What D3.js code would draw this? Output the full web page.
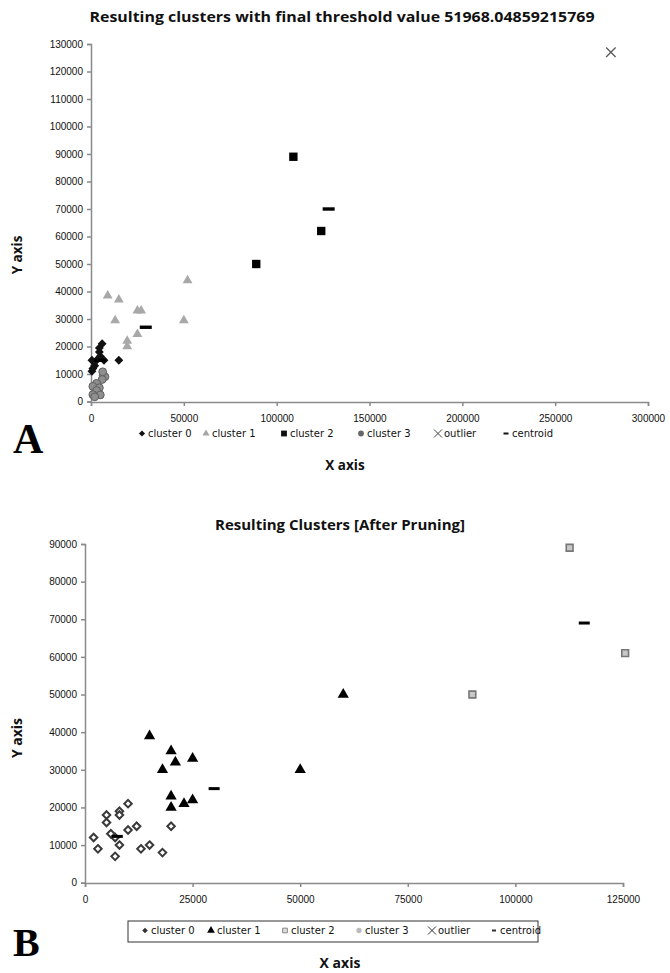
<!DOCTYPE html>
<html>
<head>
<meta charset="utf-8">
<script src="https://cdn.jsdelivr.net/npm/d3@7"></script>
<style>
  body { margin: 0; background: #fff; }
  svg { display: block; font-family: "DejaVu Sans", sans-serif; }
  .axis path, .axis line { stroke: #8a8a8a; stroke-width: 1.5; }
  .axis text { font-size: 10px; fill: #111; }
  .bold { font-family: "Open Sans", sans-serif; font-weight: bold; fill: #111; }
  .leg { font-size: 10px; fill: #111; }
</style>
</head>
<body>
<svg width="670" height="973"></svg>
<script>
// ---- chart A data (x, y pairs) ----
var aCluster0 = [[6000,21000],[4500,19500],[4500,18000],[5000,16500],[500,15000],[3000,15000],
                 [7000,15000],[15000,15000],[2000,13000],[1000,12000],[500,11000]];
var aCluster1 = [[9000,38500],[15000,37000],[13000,29500],[25000,33000],[27000,33000],[25000,24500],
                 [19500,22000],[19500,20000],[50000,29500],[52000,44000]];
var aCluster2 = [[109000,89000],[124000,62000],[89000,50000]];
var aCluster3 = [[6500,9500],[7500,9000],[6300,10800],[6000,8000],[3000,6600],[1000,5500],
                 [4500,5000],[3000,4000],[1000,2500],[5000,2400],[2000,1700]];
var aOutlier = [[280000,127000]];
var aCentroid = [[29500,27000],[128000,70000],[5000,15000]];
var aXTicks = [0,50000,100000,150000,200000,250000,300000];
var aYTicks = d3.range(0, 130001, 10000);

// ---- chart B data ----
var bCluster0 = [[2000,12000],[3000,9000],[5000,18000],[5000,16000],[6000,13000],[7000,12000],
                 [7000,7000],[8000,19000],[8000,18000],[8000,10000],[10000,21000],[10000,14000],
                 [12000,15000],[13000,9000],[15000,10000],[18000,8000],[20000,15000]];
var bCluster1 = [[15000,39000],[20000,35000],[21000,32000],[25000,33000],[18000,30000],[20000,23000],
                 [20000,20000],[23000,21000],[25000,22000],[50000,30000],[60000,50000]];
var bCluster2 = [[112600,89000],[125500,61000],[90000,50000]];
var bCentroid = [[30000,25000],[116000,69000],[7500,12300]];
var bXTicks = [0,25000,50000,75000,100000,125000];
var bYTicks = d3.range(0, 90001, 10000);

var legendNames = ["cluster 0", "cluster 1", "cluster 2", "cluster 3", "outlier", "centroid"];

var svg = d3.select("svg");

function sym(type, size) { return d3.symbol().type(type).size(size)(); }

function drawPoints(g, data, x, y, path, style) {
  g.selectAll(null).data(data).enter().append("path")
    .attr("d", path)
    .attr("transform", function(d) { return "translate(" + x(d[0]) + "," + y(d[1]) + ")"; })
    .attr("fill", style.fill)
    .attr("stroke", style.stroke || "none")
    .attr("stroke-width", style.sw || 0);
}

function drawCentroids(g, data, x, y, w, h) {
  g.selectAll(null).data(data).enter().append("rect")
    .attr("x", function(d) { return x(d[0]) - w / 2; })
    .attr("y", function(d) { return y(d[1]) - h / 2; })
    .attr("width", w).attr("height", h)
    .attr("fill", "#000");
}

function drawAxes(x, y, xTicks, yTicks, x0, y0) {
  svg.append("g").attr("class", "axis")
    .attr("transform", "translate(0," + y0 + ")")
    .call(d3.axisBottom(x).tickValues(xTicks).tickSize(4).tickSizeOuter(4).tickFormat(d3.format("d")))
    .call(function(g) { g.selectAll("text").attr("dy", "1.3em"); });
  svg.append("g").attr("class", "axis")
    .attr("transform", "translate(" + x0 + ",0)")
    .call(d3.axisLeft(y).tickValues(yTicks).tickSize(4).tickSizeOuter(4).tickFormat(d3.format("d")))
    .call(function(g) { g.selectAll("text").attr("x", -8); });
}

// ================= chart A =================
var ax = d3.scaleLinear().domain([0, 300000]).range([91, 648]);
var ay = d3.scaleLinear().domain([0, 130000]).range([401.5, 44]);

svg.append("text").attr("class", "bold")
  .attr("x", 342).attr("y", 22).attr("text-anchor", "middle")
  .attr("font-size", 14.5).attr("textLength", 505).attr("lengthAdjust", "spacingAndGlyphs")
  .text("Resulting clusters with final threshold value 51968.04859215769");

drawAxes(ax, ay, aXTicks, aYTicks, 91, 402);

var ga = svg.append("g");
drawPoints(ga, aCluster1, ax, ay, sym(d3.symbolTriangle, 42), {fill: "#a8a8a8"});
drawPoints(ga, aCluster3, ax, ay, sym(d3.symbolCircle, 48), {fill: "#8f8f8f", stroke: "#5f5f5f", sw: 1});
drawPoints(ga, aCluster0, ax, ay, sym(d3.symbolDiamond2, 50), {fill: "#111"});
drawPoints(ga, aCluster2, ax, ay, sym(d3.symbolSquare, 70), {fill: "#000"});
drawPoints(ga, aOutlier, ax, ay, sym(d3.symbolX, 60), {fill: "none", stroke: "#555", sw: 1.2});
drawCentroids(ga, aCentroid, ax, ay, 12, 3.4);

// legend A
var legA = svg.append("g").attr("transform", "translate(0,437)");
var legAX = [142, 206, 284, 361, 438, 506];
var legAStyles = [
  {p: sym(d3.symbolDiamond2, 24), fill: "#111"},
  {p: sym(d3.symbolTriangle, 22), fill: "#a6a6a6"},
  {p: sym(d3.symbolSquare, 34), fill: "#111"},
  {p: sym(d3.symbolCircle, 26), fill: "#666"},
  {p: sym(d3.symbolX, 44), fill: "none", stroke: "#444", sw: 1},
  {p: "M-2.5,-1h5v2h-5z", fill: "#111"}
];
legendNames.forEach(function(name, i) {
  var s = legAStyles[i];
  legA.append("path").attr("d", s.p).attr("transform", "translate(" + legAX[i] + ",-3.5)")
    .attr("fill", s.fill).attr("stroke", s.stroke || "none").attr("stroke-width", s.sw || 0);
  legA.append("text").attr("class", "leg").attr("x", legAX[i] + 6).text(name);
});

svg.append("text").attr("class", "bold").attr("x", 345).attr("y", 470)
  .attr("text-anchor", "middle").attr("font-size", 13.5).text("X axis");
svg.append("text").attr("class", "bold")
  .attr("transform", "translate(22,255) rotate(-90)")
  .attr("text-anchor", "middle").attr("font-size", 13.5).text("Y axis");
svg.append("text").attr("x", 13).attr("y", 453)
  .attr("font-family", "Liberation Serif, serif").attr("font-weight", "bold")
  .attr("font-size", 42).text("A");

// ================= chart B =================
var bx = d3.scaleLinear().domain([0, 125000]).range([85, 623]);
var by = d3.scaleLinear().domain([0, 90000]).range([882.7, 544]);

svg.append("text").attr("class", "bold")
  .attr("x", 340).attr("y", 530).attr("text-anchor", "middle")
  .attr("font-size", 15).text("Resulting Clusters [After Pruning]");

drawAxes(bx, by, bXTicks, bYTicks, 85, 883);

var gb = svg.append("g");
drawPoints(gb, bCluster0, bx, by, sym(d3.symbolDiamond2, 36), {fill: "#fff", stroke: "#3a3a3a", sw: 2});
drawPoints(gb, bCluster1, bx, by, sym(d3.symbolTriangle, 55), {fill: "#000"});
drawPoints(gb, bCluster2, bx, by, sym(d3.symbolSquare, 46), {fill: "#c8c8c8", stroke: "#777", sw: 1.6});
drawCentroids(gb, bCentroid, bx, by, 11, 3);

// legend B
var legB = svg.append("g").attr("transform", "translate(0,934)");
legB.append("rect").attr("x", 128).attr("y", -13).attr("width", 410).attr("height", 21)
  .attr("fill", "#fff").attr("stroke", "#333").attr("stroke-width", 1);
var legBX = [145, 211, 285, 359, 432, 494];
var legBStyles = [
  {p: sym(d3.symbolDiamond2, 20), fill: "#333"},
  {p: sym(d3.symbolTriangle, 26), fill: "#000"},
  {p: sym(d3.symbolSquare, 22), fill: "#ddd", stroke: "#888", sw: 1},
  {p: sym(d3.symbolCircle, 22), fill: "#bbb"},
  {p: sym(d3.symbolX, 44), fill: "none", stroke: "#333", sw: 1},
  {p: "M-2,-1h4v2h-4z", fill: "#333"}
];
legendNames.forEach(function(name, i) {
  var s = legBStyles[i];
  legB.append("path").attr("d", s.p).attr("transform", "translate(" + legBX[i] + ",-3.5)")
    .attr("fill", s.fill).attr("stroke", s.stroke || "none").attr("stroke-width", s.sw || 0);
  legB.append("text").attr("class", "leg").attr("x", legBX[i] + 6).text(name);
});

svg.append("text").attr("class", "bold").attr("x", 340).attr("y", 968)
  .attr("text-anchor", "middle").attr("font-size", 14).text("X axis");
svg.append("text").attr("class", "bold")
  .attr("transform", "translate(22,738) rotate(-90)")
  .attr("text-anchor", "middle").attr("font-size", 14).text("Y axis");
svg.append("text").attr("x", 13).attr("y", 956)
  .attr("font-family", "Liberation Serif, serif").attr("font-weight", "bold")
  .attr("font-size", 40).text("B");
</script>
</body>
</html>
